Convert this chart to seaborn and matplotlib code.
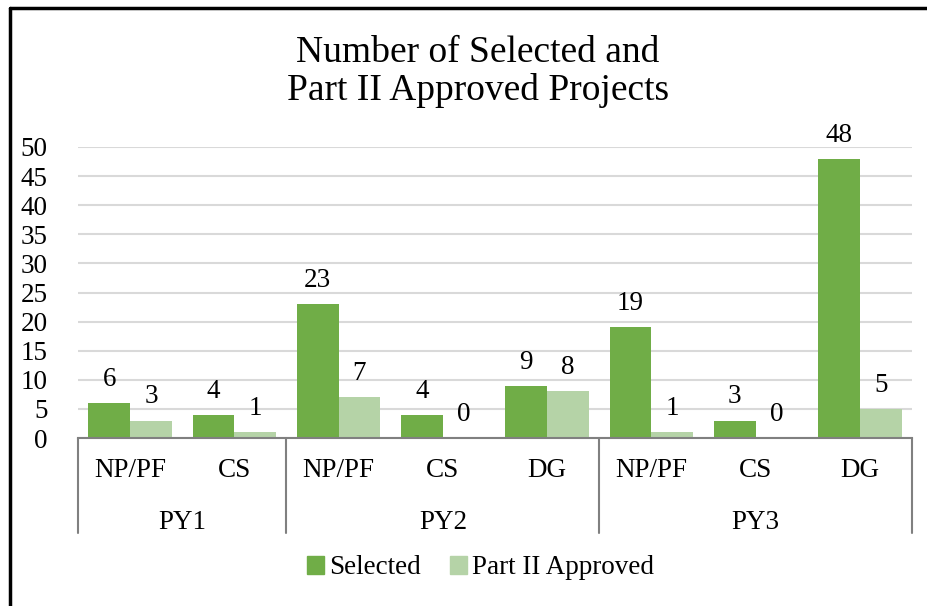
import matplotlib
matplotlib.use("Agg")
import matplotlib.pyplot as plt
import pandas as pd
import seaborn as sns
from matplotlib.lines import Line2D

years = ["PY1", "PY1", "PY2", "PY2", "PY2", "PY3", "PY3", "PY3"]
cats = ["NP/PF", "CS", "NP/PF", "CS", "DG", "NP/PF", "CS", "DG"]
selected = [6, 4, 23, 4, 9, 19, 3, 48]
approved = [3, 1, 7, 0, 8, 1, 0, 5]
series = ["Selected", "Part II Approved"]
yticks = [0, 5, 10, 15, 20, 25, 30, 35, 40, 45, 50]

keys = [f"{y} {c}" for y, c in zip(years, cats)]
df = pd.DataFrame({
    "key": keys * 2,
    "series": [series[0]] * len(keys) + [series[1]] * len(keys),
    "value": selected + approved,
})

sns.set_style("white")
plt.rcParams["font.family"] = ["Liberation Serif", "DejaVu Serif"]
plt.rcParams["text.color"] = "black"
plt.rcParams["ytick.color"] = "black"
plt.rcParams["xtick.color"] = "black"

FS = 19.5
fig = plt.figure(figsize=(9.28, 6.06), dpi=100)
ax = fig.add_axes([78 / 928, 1 - 438 / 606, (912 - 78) / 928, (438 - 147) / 606])

sns.barplot(data=df, x="key", y="value", hue="series", order=keys,
            palette=["#70AD47", "#B5D3A7"], width=0.8, saturation=1,
            linewidth=0, legend=False, ax=ax)

for cont in ax.containers:
    ax.bar_label(cont, fmt="%d", padding=8, fontsize=FS)

ax.set_ylim(0, 50)
ax.set_yticks(yticks)
ax.set_xlim(-0.5, len(keys) - 0.5)
ax.yaxis.grid(True, color="#D9D9D9", lw=1.5)
ax.set_axisbelow(True)
ax.tick_params(axis="y", labelsize=FS, length=0, pad=22)
ax.tick_params(axis="x", length=0, labelbottom=False)
ax.set_xlabel("")
ax.set_ylabel("")
for s in ["top", "right", "left"]:
    ax.spines[s].set_visible(False)
ax.spines["bottom"].set_color("#808080")
ax.spines["bottom"].set_linewidth(1.5)

# hierarchical category axis
trans = ax.get_xaxis_transform()
for i, c in enumerate(cats):
    ax.text(i, -0.11, c, transform=trans, ha="center", va="center", fontsize=FS)
groups = []
for i, y in enumerate(years):
    if not groups or groups[-1][0] != y:
        groups.append([y, i, i])
    else:
        groups[-1][2] = i
for y, a, b in groups:
    ax.text((a + b) / 2, -0.29, y, transform=trans, ha="center", va="center", fontsize=FS)
    ax.add_line(Line2D([a - 0.5, a - 0.5], [0, -0.325], transform=trans,
                       color="#808080", lw=1.5, clip_on=False))
ax.add_line(Line2D([len(keys) - 0.5, len(keys) - 0.5], [0, -0.325], transform=trans,
                   color="#808080", lw=1.5, clip_on=False))

fig.text(0.515, 1 - 72 / 606, "Number of Selected and\nPart II Approved Projects",
         ha="center", va="center", fontsize=27, linespacing=1.12)

handles = [plt.Rectangle((0, 0), 1, 1, color=col) for col in ["#70AD47", "#B5D3A7"]]
fig.legend(handles, series, loc="center", bbox_to_anchor=(0.518, 1 - 568 / 606),
           ncol=2, frameon=False, fontsize=FS, handlelength=0.6, handleheight=0.6,
           handletextpad=0.2, columnspacing=1.1)

# outer frame
fig.add_artist(Line2D([10 / 928, 1], [1 - 8 / 606, 1 - 8 / 606], color="black", lw=2.5))
fig.add_artist(Line2D([10 / 928, 10 / 928], [0, 1 - 8 / 606], color="black", lw=2.5))

fig.savefig("out.png", dpi=100)
